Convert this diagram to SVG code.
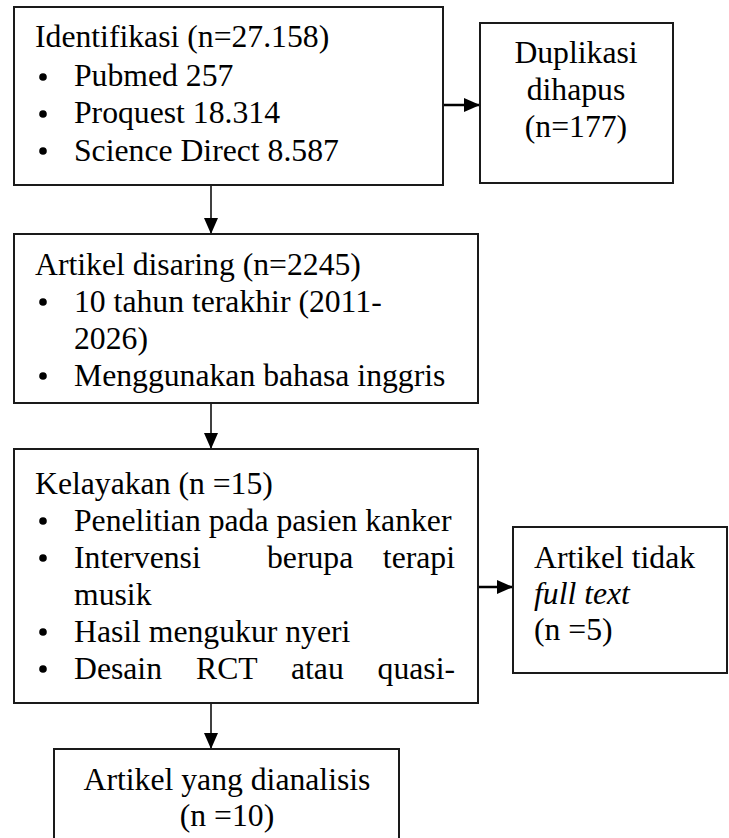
<svg xmlns="http://www.w3.org/2000/svg" width="729" height="838" viewBox="0 0 729 838">
<style>
  .box { fill: #ffffff; stroke: #1a1a1a; stroke-width: 2; }
  .t { font-family: "Liberation Serif", "Times New Roman", serif; font-size: 31.7px; fill: #000000; }
  .c { text-anchor: middle; }
  .e { text-anchor: end; }
  .i { font-style: italic; }
  .b { fill: #000000; }
  .v { stroke: #000000; stroke-width: 1.5; fill: none; }
  .h { stroke: #000000; stroke-width: 2.6; fill: none; }
</style>
<defs>
  <marker id="ah" markerUnits="userSpaceOnUse" markerWidth="16" markerHeight="14" refX="16" refY="7" orient="auto">
    <path d="M0,0 L16,7 L0,14 z" fill="#000000"/>
  </marker>
</defs>
<rect width="729" height="838" fill="#ffffff"/>

<g id="connectors">
  <line class="h" x1="443" y1="105" x2="480" y2="105" marker-end="url(#ah)"/>
  <line class="v" x1="211" y1="185" x2="211" y2="234" marker-end="url(#ah)"/>
  <line class="v" x1="211" y1="403" x2="211" y2="449" marker-end="url(#ah)"/>
  <line class="h" x1="478" y1="587" x2="513" y2="587" marker-end="url(#ah)"/>
  <line class="v" x1="211" y1="703" x2="211" y2="749" marker-end="url(#ah)"/>
</g>

<g id="identifikasi">
  <rect class="box" x="14" y="7" width="429" height="178"/>
  <text class="t" x="35" y="47">Identifikasi (n=27.158)</text>
  <circle class="b" cx="43" cy="77" r="3.8"/>
  <text class="t" x="74" y="86">Pubmed 257</text>
  <circle class="b" cx="43" cy="114" r="3.8"/>
  <text class="t" x="74" y="123">Proquest 18.314</text>
  <circle class="b" cx="43" cy="151" r="3.8"/>
  <text class="t" x="74" y="161">Science Direct 8.587</text>
</g>

<g id="duplikasi">
  <rect class="box" x="480" y="23" width="193" height="160"/>
  <text class="t c" x="576" y="63">Duplikasi</text>
  <text class="t c" x="576" y="100">dihapus</text>
  <text class="t c" x="576" y="137">(n=177)</text>
</g>

<g id="disaring">
  <rect class="box" x="14" y="234" width="464" height="169"/>
  <text class="t" x="35" y="275">Artikel disaring (n=2245)</text>
  <circle class="b" cx="43" cy="302" r="3.8"/>
  <text class="t" x="74" y="312">10 tahun terakhir (2011-</text>
  <text class="t" x="74" y="349">2026)</text>
  <circle class="b" cx="43" cy="376" r="3.8"/>
  <text class="t" x="74" y="386">Menggunakan bahasa inggris</text>
</g>

<g id="kelayakan">
  <rect class="box" x="14" y="449" width="464" height="254"/>
  <text class="t" x="35" y="494">Kelayakan (n =15)</text>
  <circle class="b" cx="43" cy="521" r="3.8"/>
  <text class="t" x="74" y="531">Penelitian pada pasien kanker</text>
  <circle class="b" cx="43" cy="558" r="3.8"/>
  <text class="t" x="74" y="568">Intervensi</text>
  <text class="t" x="267" y="568">berupa</text>
  <text class="t e" x="455" y="568">terapi</text>
  <text class="t" x="74" y="605">musik</text>
  <circle class="b" cx="43" cy="632" r="3.8"/>
  <text class="t" x="74" y="642">Hasil mengukur nyeri</text>
  <circle class="b" cx="43" cy="669" r="3.8"/>
  <text class="t" x="74" y="679">Desain</text>
  <text class="t" x="196" y="679">RCT</text>
  <text class="t" x="291" y="679">atau</text>
  <text class="t e" x="455" y="679">quasi-</text>
</g>

<g id="tidak-full-text">
  <rect class="box" x="513" y="527" width="214" height="146"/>
  <text class="t" x="534" y="568">Artikel tidak</text>
  <text class="t i" x="534" y="604">full text</text>
  <text class="t" x="534" y="640">(n =5)</text>
</g>

<g id="dianalisis">
  <rect class="box" x="54" y="749" width="345" height="120"/>
  <text class="t c" x="227" y="790">Artikel yang dianalisis</text>
  <text class="t c" x="227" y="826">(n =10)</text>
</g>
</svg>
